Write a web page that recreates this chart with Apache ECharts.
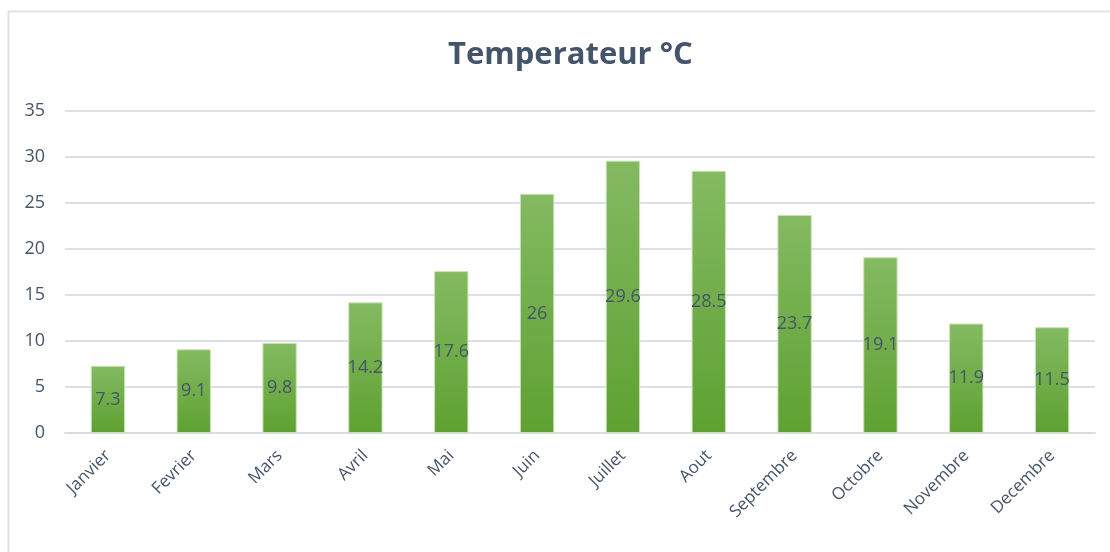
<!DOCTYPE html>
<html>
<head>
<meta charset="utf-8">
<script src="https://cdn.jsdelivr.net/npm/echarts@6/dist/echarts.min.js"></script>
<style>
  html, body { margin: 0; padding: 0; background: #fff; }
  #chart { width: 1110px; height: 552px; }
</style>
</head>
<body>
<div id="chart"></div>
<script>
// Monthly average temperatures (°C)
const months = ['Janvier', 'Fevrier', 'Mars', 'Avril', 'Mai', 'Juin', 'Juillet', 'Aout', 'Septembre', 'Octobre', 'Novembre', 'Decembre'];
const temperatures = [7.3, 9.1, 9.8, 14.2, 17.6, 26, 29.6, 28.5, 23.7, 19.1, 11.9, 11.5];
const yTicks = [0, 5, 10, 15, 20, 25, 30, 35];

const textColor = '#44546A';
const chart = echarts.init(document.getElementById('chart'), null, { renderer: 'canvas' });

chart.setOption({
  animation: false,
  backgroundColor: '#fff',
  title: {
    text: 'Temperateur °C',
    left: 443,
    top: 35,
    textStyle: { fontFamily: 'Open Sans', fontWeight: 'bold', fontSize: 31, color: textColor }
  },
  graphic: [{
    type: 'rect',
    shape: { x: 8.5, y: 11.5, width: 1110, height: 560 },
    style: { fill: 'none', stroke: '#DDE2E8', lineWidth: 2 },
    silent: true
  }],
  grid: { left: 65, right: 15, top: 111, bottom: 119 },
  xAxis: {
    type: 'category',
    data: months,
    axisTick: { show: false },
    axisLine: { lineStyle: { color: '#D9DDE3', width: 2 } },
    axisLabel: {
      rotate: 45,
      color: textColor,
      fontFamily: 'Open Sans',
      fontSize: 17,
      margin: 20,
      interval: 0
    }
  },
  yAxis: {
    type: 'value',
    min: yTicks[0],
    max: yTicks[yTicks.length - 1],
    interval: 5,
    axisLine: { show: false },
    axisTick: { show: false },
    splitLine: { lineStyle: { color: '#DDE1E7', width: 2 } },
    axisLabel: { color: textColor, fontFamily: 'Open Sans', fontSize: 18, margin: 20 }
  },
  series: [{
    type: 'bar',
    data: temperatures,
    barWidth: '40%',
    itemStyle: {
      color: new echarts.graphic.LinearGradient(0, 0, 0, 1, [
        { offset: 0, color: '#84BA62' },
        { offset: 1, color: '#5EA131' }
      ]),
      borderColor: '#C9E2B8',
      borderWidth: 1
    },
    label: {
      show: true,
      position: 'inside',
      color: textColor,
      fontFamily: 'Open Sans',
      fontSize: 18
    }
  }]
});
</script>
</body>
</html>
